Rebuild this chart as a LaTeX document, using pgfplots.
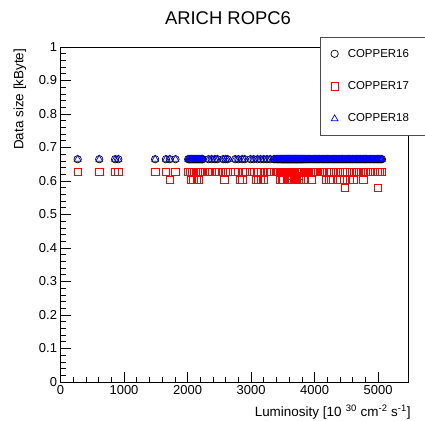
\documentclass[border=0pt]{standalone}
\usepackage{fontspec}
\setmainfont{Liberation Sans}
\usepackage{pgfplots}
\pgfplotsset{compat=1.18}

% luminosity of each run and the data size per COPPER board
\pgfplotstableread{
lumi size
270 0.665
610 0.665
860 0.665
910 0.665
1490 0.665
1660 0.665
1720 0.665
1810 0.665
2010 0.665
2040 0.665
2070 0.665
2100 0.665
2130 0.665
2160 0.665
2190 0.665
2220 0.665
2240 0.665
2330 0.665
2380 0.665
2430 0.665
2470 0.665
2560 0.665
2600 0.665
2630 0.665
2750 0.665
2800 0.665
2860 0.665
2900 0.665
2990 0.665
3040 0.665
3100 0.665
3150 0.665
3200 0.665
3250 0.665
3300 0.665
3360 0.665
3400 0.665
3430 0.665
3460 0.665
3490 0.665
3510 0.665
3530 0.665
3550 0.665
3570 0.665
3590 0.665
3610 0.665
3630 0.665
3650 0.665
3670 0.665
3690 0.665
3710 0.665
3730 0.665
3750 0.665
3770 0.665
3790 0.665
3810 0.665
3840 0.665
3870 0.665
3900 0.665
3940 0.665
3980 0.665
4010 0.665
4050 0.665
4080 0.665
4120 0.665
4150 0.665
4190 0.665
4220 0.665
4260 0.665
4300 0.665
4330 0.665
4370 0.665
4400 0.665
4440 0.665
4480 0.665
4510 0.665
4550 0.665
4590 0.665
4620 0.665
4660 0.665
4700 0.665
4730 0.665
4770 0.665
4800 0.665
4840 0.665
4880 0.665
4920 0.665
4950 0.665
4990 0.665
5030 0.665
5060 0.665
2025 0.665
2055 0.665
2085 0.665
2115 0.665
2145 0.665
2175 0.665
2205 0.665
2230 0.665
3375 0.665
3415 0.665
3445 0.665
3475 0.665
3500 0.665
3520 0.665
3540 0.665
3560 0.665
3580 0.665
3600 0.665
3620 0.665
3640 0.665
3660 0.665
3680 0.665
3700 0.665
3720 0.665
3740 0.665
3760 0.665
3780 0.665
3800 0.665
3825 0.665
3855 0.665
3885 0.665
3920 0.665
3960 0.665
3995 0.665
4030 0.665
4065 0.665
4100 0.665
4135 0.665
4170 0.665
4205 0.665
4240 0.665
4280 0.665
4315 0.665
4350 0.665
4385 0.665
4420 0.665
4460 0.665
4495 0.665
4530 0.665
4570 0.665
4605 0.665
4640 0.665
4680 0.665
4715 0.665
4750 0.665
4785 0.665
4820 0.665
4860 0.665
4900 0.665
4935 0.665
4970 0.665
5010 0.665
5045 0.665
}\copperA

\pgfplotstableread{
lumi size
270 0.627
610 0.627
860 0.627
910 0.627
1490 0.627
1660 0.627
1720 0.603
1810 0.627
2010 0.627
2040 0.627
2050 0.603
2070 0.627
2090 0.603
2100 0.627
2130 0.627
2150 0.603
2160 0.627
2180 0.603
2190 0.627
2220 0.627
2240 0.627
2330 0.627
2380 0.627
2430 0.627
2470 0.627
2560 0.627
2580 0.603
2600 0.627
2630 0.627
2750 0.627
2800 0.627
2820 0.603
2860 0.627
2860 0.603
2900 0.627
2990 0.627
3040 0.627
3080 0.603
3100 0.627
3110 0.603
3150 0.627
3150 0.603
3190 0.603
3200 0.627
3250 0.627
3300 0.627
3360 0.627
3400 0.627
3430 0.627
3450 0.603
3460 0.627
3480 0.603
3490 0.627
3510 0.627
3510 0.603
3530 0.627
3550 0.627
3560 0.603
3570 0.627
3580 0.603
3590 0.627
3600 0.603
3600 0.615
3610 0.627
3620 0.603
3630 0.627
3650 0.627
3650 0.603
3650 0.615
3670 0.627
3680 0.603
3690 0.627
3700 0.603
3700 0.615
3710 0.627
3720 0.603
3730 0.627
3750 0.627
3750 0.603
3750 0.615
3770 0.627
3780 0.603
3790 0.627
3810 0.627
3820 0.603
3840 0.627
3870 0.627
3900 0.627
3940 0.627
3955 0.603
3980 0.627
4010 0.627
4050 0.627
4080 0.627
4120 0.627
4150 0.627
4180 0.603
4190 0.627
4220 0.627
4230 0.603
4260 0.627
4260 0.603
4300 0.627
4330 0.627
4350 0.603
4370 0.627
4400 0.627
4400 0.603
4440 0.627
4470 0.603
4480 0.580
4510 0.627
4550 0.627
4550 0.603
4590 0.627
4610 0.603
4620 0.627
4660 0.627
4700 0.627
4730 0.627
4770 0.627
4770 0.603
4800 0.627
4840 0.627
4880 0.627
4920 0.627
4950 0.627
4990 0.627
5000 0.580
5030 0.627
5060 0.627
}\copperB

\begin{document}
\begin{tikzpicture}
\path[use as bounding box] (0bp,0bp) rectangle (425bp,421bp);
\node[anchor=base, font=\fontsize{18.5}{20}\selectfont] at (228bp,396bp) {ARICH ROPC6};
\begin{axis}[
  at={(60.5bp,39bp)}, anchor=south west,
  scale only axis, width=347.5bp, height=335bp,
  xmin=0, xmax=5470, ymin=0, ymax=1,
  axis line style={line width=0.8bp, black},
  tick pos=left, tick align=inside,
  major tick length=10bp, minor tick length=5bp,
  every tick/.style={black, line width=0.6bp},
  xtick={0,1000,2000,3000,4000,5000},
  ytick={0,0.1,0.2,0.3,0.4,0.5,0.6,0.7,0.8,0.9,1},
  minor x tick num=4, minor y tick num=4,
  scaled x ticks=false,
  /pgf/number format/assume math mode=true,
  /pgf/number format/1000 sep={},
  tick label style={font=\fontsize{13}{15}\selectfont},
  xlabel={Luminosity [10\,\,\textsuperscript{30} cm\textsuperscript{-2} s\textsuperscript{-1}]},
  ylabel={Data size [kByte]},
  label style={font=\fontsize{13.5}{15}\selectfont},
  xlabel style={at={(axis description cs:1.0175,-0.103)}, anchor=base east},
  ylabel style={at={(axis description cs:-0.1165,1.005)}, anchor=east, rotate=0},
  legend cell align=left,
  legend style={at={(axis description cs:0.7468,1.030)}, anchor=north west,
    draw=black!70, line width=0.8bp, fill=white,
    font=\fontsize{11.5}{14}\selectfont,
    inner xsep=10.5bp, inner ysep=9.7bp, row sep=19bp, column sep=7.5bp},
]
\addplot[only marks, mark=o, mark size=3.7bp, black, mark options={line width=0.7bp}]
  table[x=lumi, y=size] {\copperA};
\addlegendentry{\makebox[95bp][l]{COPPER16}}
\addplot[only marks, mark=square, mark size=3.7bp, red, mark options={line width=0.7bp}]
  table[x=lumi, y=size] {\copperB};
\addlegendentry{\makebox[95bp][l]{COPPER17}}
\addplot[only marks, mark=triangle, mark size=3.9bp, blue, mark options={line width=0.7bp}]
  table[x=lumi, y=size] {\copperA};
\addlegendentry{\makebox[95bp][l]{COPPER18}}
\end{axis}
\end{tikzpicture}
\end{document}
